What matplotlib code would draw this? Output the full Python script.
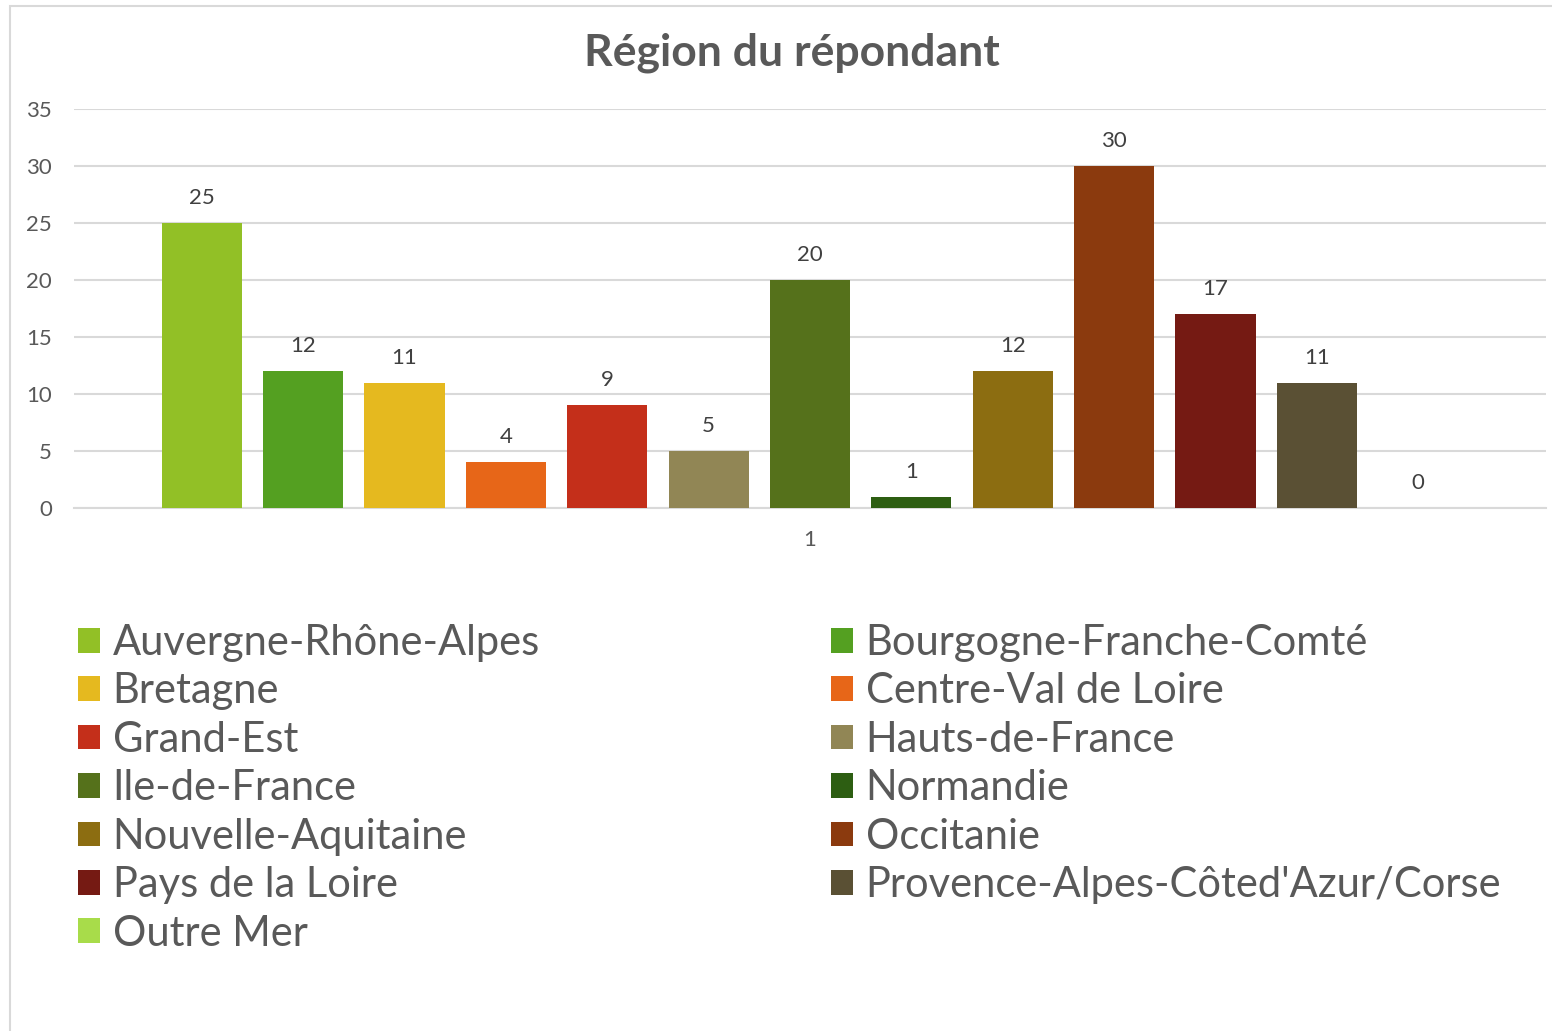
import matplotlib.pyplot as plt
import numpy as np
from matplotlib.patches import Patch, Rectangle

# Data
regions = [
    "Auvergne-Rhône-Alpes",
    "Bourgogne-Franche-Comté",
    "Bretagne",
    "Centre-Val de Loire",
    "Grand-Est",
    "Hauts-de-France",
    "Ile-de-France",
    "Normandie",
    "Nouvelle-Aquitaine",
    "Occitanie",
    "Pays de la Loire",
    "Provence-Alpes-Côted'Azur/Corse",
    "Outre Mer",
]
counts = [25, 12, 11, 4, 9, 5, 20, 1, 12, 30, 17, 11, 0]
colors = [
    "#92C026", "#54A021", "#E5B91F", "#E76618", "#C42F1A", "#918655",
    "#55711B", "#2D5E12", "#8C6D11", "#8B3A0E", "#751A13", "#5A5034",
    "#A8DC4A",
]
category_label = "1"
title = "Région du répondant"

text_grey = "#595959"
grid_grey = "#D9D9D9"
plt.rcParams["font.family"] = ["Lato", "DejaVu Sans"]

fig = plt.figure(figsize=(15.52, 10.31), dpi=100)
ax = fig.add_axes([74 / 1552, 1 - 508 / 1031, 1472 / 1552, 399 / 1031])

x = np.arange(len(counts))
bars = ax.bar(x, counts, width=0.79, color=colors, zorder=3)

# value labels on top of each bar
for xi, v in zip(x, counts):
    ax.annotate(str(v), (xi, v), xytext=(0, 18), textcoords="offset points",
                ha="center", va="center", fontsize=16, color="#404040")

ax.set_xlim(-1.26, 13.26)
ax.set_ylim(0, 35)
ax.set_yticks(np.arange(0, 36, 5))
ax.yaxis.grid(True, color=grid_grey, linewidth=1.5, zorder=0)
ax.set_xticks([6])
ax.set_xticklabels([category_label])
ax.tick_params(axis="both", length=0, labelsize=16, labelcolor=text_grey)
ax.tick_params(axis="y", pad=16)
ax.tick_params(axis="x", pad=16)
for s in ["top", "right", "left"]:
    ax.spines[s].set_visible(False)
ax.spines["bottom"].set_color(grid_grey)
ax.spines["bottom"].set_linewidth(1.5)

fig.text(792 / 1552, 1 - 53 / 1031, title, ha="center", va="center",
         fontsize=32, fontweight="bold", color=text_grey)

# legend: Excel fills row by row, so split into two columns
handles = [Patch(facecolor=c, edgecolor="none") for c in colors]
leg_kw = dict(frameon=False, fontsize=30, labelcolor=text_grey,
              handlelength=0.53, handleheight=0.53, handletextpad=0.3,
              labelspacing=0.25, borderpad=0, borderaxespad=0, loc="upper left")
col1 = list(range(0, len(regions), 2))
col2 = list(range(1, len(regions), 2))
leg1 = fig.legend([handles[i] for i in col1], [regions[i] for i in col1],
                  bbox_to_anchor=(78 / 1552, 1 - 624 / 1031), **leg_kw)
leg2 = fig.legend([handles[i] for i in col2], [regions[i] for i in col2],
                  bbox_to_anchor=(831 / 1552, 1 - 624 / 1031), **leg_kw)

# chart border
fig.add_artist(Rectangle((10 / 1552, -0.1), 1.2, 1.1 - 6 / 1031,
                         transform=fig.transFigure, fill=False,
                         edgecolor=grid_grey, linewidth=1.5))

fig.savefig("out.png", dpi=100)
